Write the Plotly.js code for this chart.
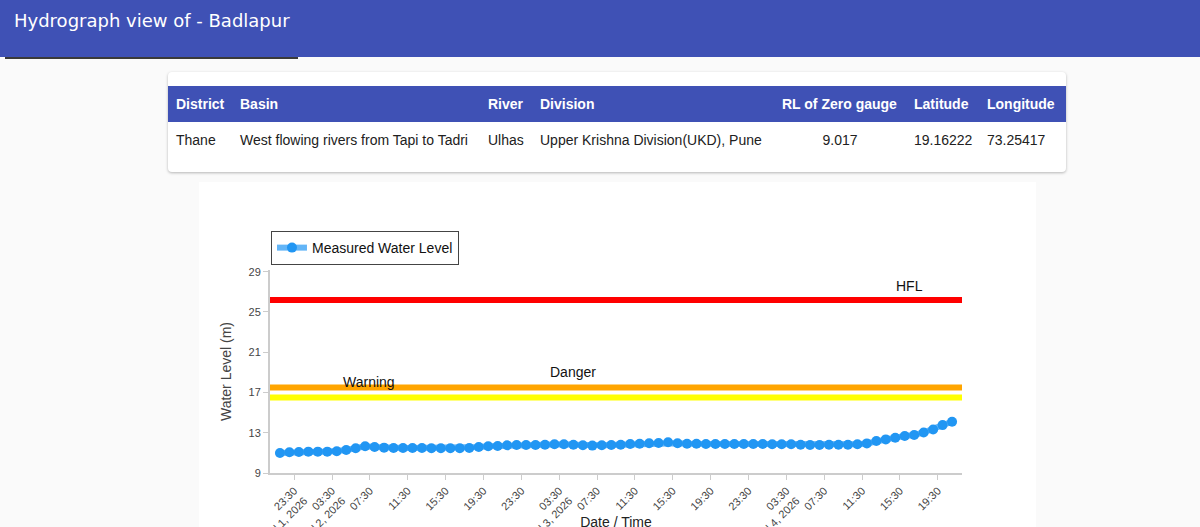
<!DOCTYPE html>
<html>
<head>
<meta charset="utf-8">
<script src="https://cdn.plot.ly/plotly-3.0.1.min.js"></script>
<style>
html,body{margin:0;padding:0;width:1200px;height:527px;overflow:hidden;background:#fafafa;font-family:Arial,"Liberation Sans",sans-serif;}
#hdr{position:absolute;left:0;top:0;width:1200px;height:57px;background:#3F51B5;}
#hdr .t{position:absolute;left:14px;top:11px;color:#fff;font-family:Verdana,"DejaVu Sans",sans-serif;font-size:18px;line-height:20px;white-space:nowrap;}
#uline{position:absolute;left:5px;top:57px;width:293px;height:2px;background:#3a3a3a;}
#card{position:absolute;left:168px;top:72px;width:898px;height:100px;background:#fff;border-radius:4px;box-shadow:0 1px 3px rgba(0,0,0,0.28);}
#card table{position:absolute;left:0;top:14px;border-collapse:collapse;table-layout:fixed;width:898px;font-size:14px;}
#card th{background:#3F51B5;color:#fff;font-weight:bold;text-align:left;padding:0 8px;height:36px;white-space:nowrap;}
#card td{padding:1px 8px 0 8px;height:34px;color:#212121;white-space:nowrap;}
#chartcard{position:absolute;left:199px;top:182px;width:837px;height:400px;background:#fff;}
#chart{position:absolute;left:199px;top:182px;width:837px;height:391px;}
</style>
</head>
<body>
<div id="hdr"><div class="t">Hydrograph view of - Badlapur</div></div>
<div id="uline"></div>
<div id="card"><table id="tbl"></table></div>
<div id="chartcard"></div>
<div id="chart"></div>
<script>
// ---- table data ----
const tableHeaders = ['District','Basin','River','Division','RL of Zero gauge','Latitude','Longitude'];
const tableValues = ['Thane','West flowing rivers from Tapi to Tadri','Ulhas','Upper Krishna Division(UKD), Pune','9.017','19.16222','73.25417'];

// ---- chart data ----
const times = [
 '2026-07-01 22:00','2026-07-01 23:00','2026-07-02 00:00','2026-07-02 01:00','2026-07-02 02:00','2026-07-02 03:00',
 '2026-07-02 04:00','2026-07-02 05:00','2026-07-02 06:00','2026-07-02 07:00','2026-07-02 08:00','2026-07-02 09:00',
 '2026-07-02 10:00','2026-07-02 11:00','2026-07-02 12:00','2026-07-02 13:00','2026-07-02 14:00','2026-07-02 15:00',
 '2026-07-02 16:00','2026-07-02 17:00','2026-07-02 18:00','2026-07-02 19:00','2026-07-02 20:00','2026-07-02 21:00',
 '2026-07-02 22:00','2026-07-02 23:00','2026-07-03 00:00','2026-07-03 01:00','2026-07-03 02:00','2026-07-03 03:00',
 '2026-07-03 04:00','2026-07-03 05:00','2026-07-03 06:00','2026-07-03 07:00','2026-07-03 08:00','2026-07-03 09:00',
 '2026-07-03 10:00','2026-07-03 11:00','2026-07-03 12:00','2026-07-03 13:00','2026-07-03 14:00','2026-07-03 15:00',
 '2026-07-03 16:00','2026-07-03 17:00','2026-07-03 18:00','2026-07-03 19:00','2026-07-03 20:00','2026-07-03 21:00',
 '2026-07-03 22:00','2026-07-03 23:00','2026-07-04 00:00','2026-07-04 01:00','2026-07-04 02:00','2026-07-04 03:00',
 '2026-07-04 04:00','2026-07-04 05:00','2026-07-04 06:00','2026-07-04 07:00','2026-07-04 08:00','2026-07-04 09:00',
 '2026-07-04 10:00','2026-07-04 11:00','2026-07-04 12:00','2026-07-04 13:00','2026-07-04 14:00','2026-07-04 15:00',
 '2026-07-04 16:00','2026-07-04 17:00','2026-07-04 18:00','2026-07-04 19:00','2026-07-04 20:00','2026-07-04 21:00'
];
const waterLevel = [
 10.99,11.06,11.09,11.12,11.12,11.12,11.16,11.29,11.46,11.65,11.59,11.52,
 11.49,11.49,11.49,11.49,11.46,11.46,11.46,11.46,11.49,11.59,11.65,11.69,
 11.75,11.78,11.78,11.78,11.81,11.85,11.85,11.81,11.75,11.72,11.75,11.78,
 11.81,11.88,11.91,11.95,11.98,12.05,11.95,11.91,11.91,11.88,11.88,11.88,
 11.88,11.88,11.88,11.88,11.85,11.85,11.85,11.81,11.78,11.78,11.81,11.81,
 11.81,11.85,11.94,12.18,12.34,12.51,12.68,12.78,13.03,13.33,13.76,14.09
];
const levelNames = ['HFL','Danger','Warning'];
const levelValues = [26.2, 17.5, 16.5];
const labelTexts = ['Warning','Danger','HFL'];
const labelTimes = ['2026-07-02 07:24','2026-07-03 04:56','2026-07-04 16:32'];
const labelLevels = [18.06, 19.05, 27.6];
const yTickVals = [9,13,17,21,25,29];

// ---- build table ----
const colWidths = [64,248,52,242,132,73,87];
const tbl = document.getElementById('tbl');
let cg = '<colgroup>' + colWidths.map(w => '<col style="width:'+w+'px">').join('') + '</colgroup>';
let hr = '<tr>' + tableHeaders.map(h => '<th>'+h+'</th>').join('') + '</tr>';
let vr = '<tr>' + tableValues.map((v,i) => '<td style="text-align:'+(i===4?'center':'left')+'">'+v+'</td>').join('') + '</tr>';
tbl.innerHTML = cg + hr + vr;

// ---- chart ----
const lineColors = {HFL:'#FF0000', Danger:'#FFA500', Warning:'#FFFF00'};
const shapes = levelNames.map((n,i) => ({
  type:'line', xref:'paper', x0:0, x1:1, yref:'y', y0:levelValues[i], y1:levelValues[i],
  line:{color:lineColors[n], width:6}, layer:'above'
}));
const annotations = labelTexts.map((t,i) => ({
  x: labelTimes[i], y: labelLevels[i], xref:'x', yref:'y', text:t, showarrow:false,
  font:{size:14, color:'#111'}, xanchor:'center', yanchor:'middle'
}));

const trace = {
  x: times, y: waterLevel, type:'scatter', mode:'lines+markers', name:'Measured Water Level',
  line:{color:'rgba(33,150,243,0.7)', width:6},
  marker:{color:'#2196F3', size:10}
};

const layout = {
  width:837, height:391,
  margin:{l:71, r:74, t:88, b:100},
  paper_bgcolor:'#ffffff', plot_bgcolor:'#ffffff',
  font:{family:'Arial, "Liberation Sans", sans-serif', size:11, color:'#444'},
  showlegend:true,
  legend:{x:0.0014, y:1.192, xanchor:'left', yanchor:'top', bordercolor:'#444', borderwidth:1,
          bgcolor:'#fff', font:{size:14, color:'#111'}},
  xaxis:{
    type:'date', range:['2026-07-01 20:57','2026-07-04 22:03'],
    tick0:'2026-07-01 23:30', dtick:4*3600*1000, tickangle:-45,
    showgrid:false, zeroline:false, showline:true, linecolor:'#cccccc', linewidth:2,
    ticks:'outside', ticklen:5, tickcolor:'#cccccc', tickfont:{size:11, color:'#444'},
    title:{text:'Date / Time', font:{size:14, color:'#222'}}
  },
  yaxis:{
    range:[9, 29.17], tickvals:yTickVals,
    showgrid:false, zeroline:false, showline:true, linecolor:'#cccccc', linewidth:2,
    ticks:'outside', ticklen:5, tickcolor:'#cccccc', tickfont:{size:11, color:'#444'},
    title:{text:'Water Level (m)', font:{size:14, color:'#444'}}
  },
  shapes: shapes,
  annotations: annotations
};

Plotly.newPlot('chart', [trace], layout, {displayModeBar:false, staticPlot:true});
</script>
</body>
</html>
